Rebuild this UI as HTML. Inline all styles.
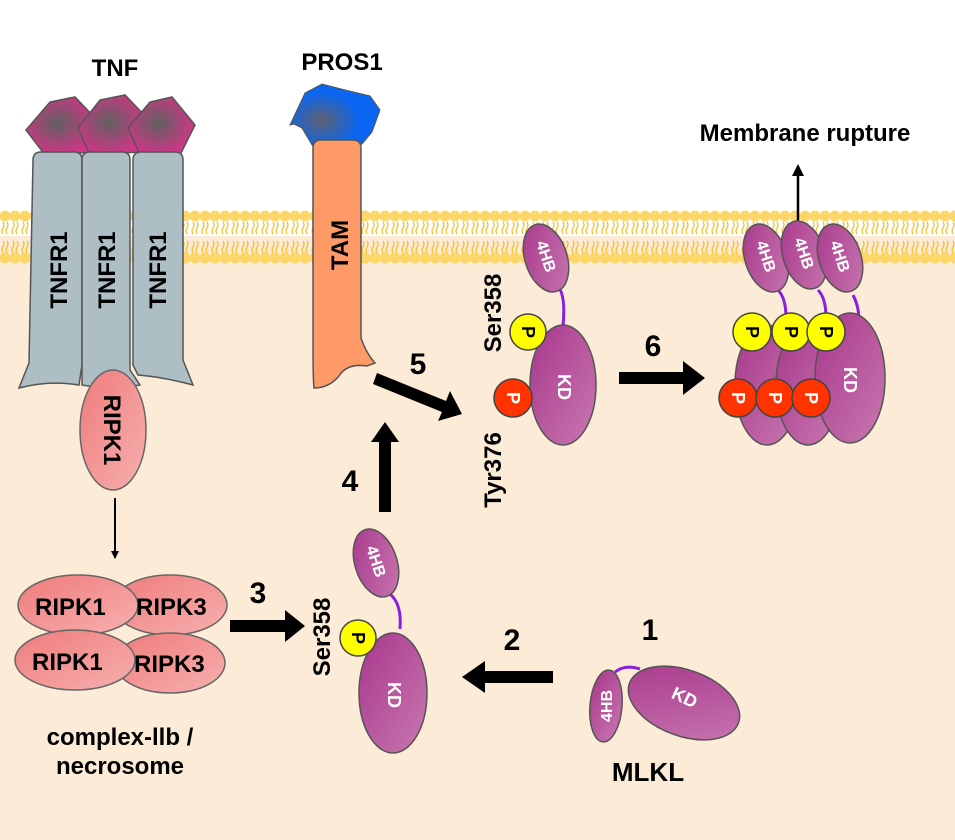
<!DOCTYPE html>
<html><head><meta charset="utf-8"><style>
html,body{margin:0;padding:0;background:#fff}
svg{display:block}
text{font-family:"Liberation Sans",Arial,sans-serif;font-weight:bold}
</style></head><body>
<svg width="955" height="840" viewBox="0 0 955 840" xmlns="http://www.w3.org/2000/svg">
<defs>
<pattern id="mem" x="0" y="210" width="10" height="56" patternUnits="userSpaceOnUse">
<circle cx="5" cy="6" r="5.5" fill="#fdd66a"/>
<circle cx="5" cy="48" r="5.5" fill="#fdd66a"/>
<path d="M3 12 q2 3 0 6 q-2 3 0 6 M7 12 q2 3 0 6 q-2 3 0 6 M3 31 q2 3 0 6 q-2 3 0 6 M7 31 q2 3 0 6 q-2 3 0 6" stroke="#f5bf2a" stroke-width="1.3" fill="none"/>
</pattern>
<radialGradient id="tnf" cx="0.45" cy="0.45" r="0.6"><stop offset="0" stop-color="#606060"/><stop offset="1" stop-color="#d8338a"/></radialGradient>
<radialGradient id="pros" cx="0.35" cy="0.55" r="0.6"><stop offset="0" stop-color="#606070"/><stop offset="0.7" stop-color="#0a66f0"/></radialGradient>
<linearGradient id="pur" x1="0" y1="0" x2="1" y2="1"><stop offset="0" stop-color="#a8378c"/><stop offset="1" stop-color="#c878b0"/></linearGradient>
<linearGradient id="rip" x1="0" y1="0" x2="1" y2="1"><stop offset="0" stop-color="#ef7b7b"/><stop offset="1" stop-color="#f7b0b0"/></linearGradient>
<marker id="ah" markerWidth="8" markerHeight="8" refX="7" refY="4" orient="auto" markerUnits="userSpaceOnUse"><path d="M0 0 L8 4 L0 8Z" fill="#000"/></marker>
<marker id="ah2" markerWidth="12" markerHeight="12" refX="10" refY="6" orient="auto" markerUnits="userSpaceOnUse"><path d="M0 0 L12 6 L0 12Z" fill="#000"/></marker>
</defs>
<rect x="0" y="0" width="955" height="840" fill="#fff"/>
<rect x="0" y="236" width="955" height="604" fill="#fcebd7"/>
<rect x="0" y="210" width="955" height="56" fill="url(#mem)"/>

<!-- TNF -->
<text x="115" y="76" font-size="24" text-anchor="middle">TNF</text>
<g stroke="#555" stroke-width="1.5" fill="url(#tnf)">
<path d="M26 130 L50 102 L75 97 L97 120 L95 152 L45 155Z"/>
<path d="M78 128 L100 100 L125 95 L147 118 L140 152 L90 155Z"/>
<path d="M128 128 L150 102 L172 97 L195 125 L180 155 L140 155Z"/>
</g>
<g stroke="#555" stroke-width="1.5" fill="#adbfc5">
<path d="M33 160 q0-8 8-8 h33 q8 0 8 8 v205 l-3 20 q-30 -5 -60 3 l10 -25Z"/>
<path d="M82 160 q0-8 8-8 h32 q8 0 8 8 v210 l10 15 q-30 5 -58 0 l0 -15Z"/>
<path d="M133 160 q0-8 8-8 h34 q8 0 8 8 v200 l10 25 q-30 -8 -55 -10 l-5 -10Z"/>
</g>
<g font-size="24" text-anchor="middle">
<text transform="translate(67,270) rotate(-90)">TNFR1</text>
<text transform="translate(115,270) rotate(-90)">TNFR1</text>
<text transform="translate(166,270) rotate(-90)">TNFR1</text>
</g>
<ellipse cx="113" cy="430" rx="33" ry="60" fill="url(#rip)" stroke="#666" stroke-width="1.5"/>
<text transform="translate(104,430) rotate(90)" font-size="24" text-anchor="middle">RIPK1</text>
<line x1="115" y1="498" x2="115" y2="558" stroke="#000" stroke-width="2" marker-end="url(#ah)"/>

<g stroke="#666" stroke-width="1.5" fill="url(#rip)">
<ellipse cx="170" cy="605" rx="57" ry="30"/>
<ellipse cx="170" cy="663" rx="55" ry="30"/>
<ellipse cx="78" cy="605" rx="60" ry="30"/>
<ellipse cx="75" cy="660" rx="60" ry="30"/>
</g>
<g font-size="24">
<text x="136" y="615">RIPK3</text>
<text x="134" y="672">RIPK3</text>
<text x="35" y="615">RIPK1</text>
<text x="32" y="670">RIPK1</text>
</g>
<text x="120" y="745" font-size="24" text-anchor="middle">complex-llb /</text>
<text x="120" y="774" font-size="24" text-anchor="middle">necrosome</text>

<!-- PROS1 / TAM -->
<text x="342" y="70" font-size="24" text-anchor="middle">PROS1</text>
<path d="M290 125 L305 93 L322 84 L345 90 L370 96 L380 110 L372 132 L362 144 L315 150 L302 128 L294 124Z" fill="url(#pros)" stroke="#555" stroke-width="1"/>
<path d="M313 148 q0-8 8-8 h32 q8 0 8 8 v190 q5 15 14 25 l-8 3 q-20 -3 -28 10 q-10 12 -25 12 q-1 -10 -1 -40Z" fill="#fd9a68" stroke="#555" stroke-width="1.5"/>
<text transform="translate(348,245) rotate(-90)" font-size="24" text-anchor="middle">TAM</text>

<!-- arrows -->
<g fill="#000">
<path d="M230 620 H285 V610 L305 626 L285 642 V632 H230Z"/>
<text x="258" y="603" font-size="30" text-anchor="middle">3</text>
<path d="M379 512 V442 H371 L385 422 L399 442 H391 V512Z"/>
<text x="350" y="491" font-size="30" text-anchor="middle">4</text>
<path d="M377 373 L446 401 L450 391 L462 414 L438 421 L442 412 L373 384Z"/>
<text x="418" y="374" font-size="30" text-anchor="middle">5</text>
<path d="M619 372 H683 V361 L705 378 L683 395 V384 H619Z"/>
<text x="653" y="356" font-size="30" text-anchor="middle">6</text>
<path d="M553 671 H485 V661 L462 677 L485 693 V683 H553Z"/>
<text x="512" y="650" font-size="30" text-anchor="middle">2</text>
<text x="650" y="640" font-size="30" text-anchor="middle">1</text>
</g>

<!-- MLKL after 3 -->
<path d="M390 594 q12 10 10 35" stroke="#8a1ee0" stroke-width="3" fill="none"/>
<ellipse cx="376" cy="563" rx="21" ry="35" transform="rotate(-18 376 563)" fill="url(#pur)" stroke="#555" stroke-width="1.5"/>
<text transform="translate(371,563) rotate(72)" font-size="16" fill="#fff" text-anchor="middle" font-weight="normal">4HB</text>
<ellipse cx="393" cy="693" rx="34" ry="60" fill="url(#pur)" stroke="#555" stroke-width="1.5"/>
<text transform="translate(388,695) rotate(90)" font-size="18" fill="#fff" text-anchor="middle" font-weight="normal">KD</text>
<circle cx="358" cy="638" r="18" fill="#ffff00" stroke="#444" stroke-width="1.5"/>
<text transform="translate(352,638) rotate(90)" font-size="18" text-anchor="middle">P</text>
<text transform="translate(330,637) rotate(-90)" font-size="24" text-anchor="middle">Ser358</text>

<!-- MLKL at membrane -->
<path d="M558 286 q8 10 5 40" stroke="#8a1ee0" stroke-width="3" fill="none"/>
<ellipse cx="546" cy="258" rx="21" ry="35" transform="rotate(-18 546 258)" fill="url(#pur)" stroke="#555" stroke-width="1.5"/>
<text transform="translate(541,258) rotate(72)" font-size="16" fill="#fff" text-anchor="middle" font-weight="normal">4HB</text>
<ellipse cx="563" cy="385" rx="33" ry="60" fill="url(#pur)" stroke="#555" stroke-width="1.5"/>
<text transform="translate(558,387) rotate(90)" font-size="18" fill="#fff" text-anchor="middle" font-weight="normal">KD</text>
<circle cx="528" cy="332" r="18" fill="#ffff00" stroke="#444" stroke-width="1.5"/>
<text transform="translate(522,332) rotate(90)" font-size="18" text-anchor="middle">P</text>
<circle cx="513" cy="398" r="19" fill="#ff3300" stroke="#444" stroke-width="1.5"/>
<text transform="translate(507,398) rotate(90)" font-size="18" fill="#fff" text-anchor="middle">P</text>
<text transform="translate(501,313) rotate(-90)" font-size="24" text-anchor="middle">Ser358</text>
<text transform="translate(501,470) rotate(-90)" font-size="24" text-anchor="middle">Tyr376</text>

<!-- oligomer -->
<text x="805" y="141" font-size="24" text-anchor="middle">Membrane rupture</text>
<line x1="798" y1="228" x2="798" y2="166" stroke="#000" stroke-width="2.5" marker-end="url(#ah2)"/>
<g stroke="#8a1ee0" stroke-width="3" fill="none">
<path d="M778 290 q8 8 8 28"/><path d="M818 290 q8 8 8 28"/><path d="M853 295 q8 15 5 35"/>
</g>
<g fill="url(#pur)" stroke="#555" stroke-width="1.5">
<ellipse cx="767" cy="385" rx="32" ry="60"/>
<ellipse cx="808" cy="385" rx="32" ry="60"/>
<ellipse cx="850" cy="378" rx="35" ry="65"/>
</g>
<text transform="translate(844,380) rotate(90)" font-size="18" fill="#fff" text-anchor="middle" font-weight="normal">KD</text>
<g fill="url(#pur)" stroke="#555" stroke-width="1.5">
<ellipse cx="766" cy="258" rx="21" ry="35" transform="rotate(-18 766 258)"/>
<ellipse cx="804" cy="255" rx="21" ry="35" transform="rotate(-18 804 255)"/>
<ellipse cx="840" cy="258" rx="21" ry="35" transform="rotate(-18 840 258)"/>
</g>
<g font-size="16" fill="#fff" text-anchor="middle" font-weight="normal">
<text transform="translate(761,258) rotate(72)">4HB</text>
<text transform="translate(799,255) rotate(72)">4HB</text>
<text transform="translate(835,258) rotate(72)">4HB</text>
</g>
<g fill="#ffff00" stroke="#444" stroke-width="1.5">
<circle cx="752" cy="332" r="19"/><circle cx="791" cy="332" r="19"/><circle cx="826" cy="332" r="19"/>
</g>
<g font-size="18" text-anchor="middle">
<text transform="translate(746,332) rotate(90)">P</text>
<text transform="translate(785,332) rotate(90)">P</text>
<text transform="translate(820,332) rotate(90)">P</text>
</g>
<g fill="#ff3300" stroke="#444" stroke-width="1.5">
<circle cx="738" cy="398" r="19"/><circle cx="775" cy="398" r="19"/><circle cx="811" cy="398" r="19"/>
</g>
<g font-size="18" fill="#fff" text-anchor="middle">
<text transform="translate(732,398) rotate(90)">P</text>
<text transform="translate(769,398) rotate(90)">P</text>
<text transform="translate(805,398) rotate(90)">P</text>
</g>

<!-- MLKL monomer -->
<path d="M615 672 q10 -8 25 -3" stroke="#8a1ee0" stroke-width="3" fill="none"/>
<ellipse cx="684" cy="703" rx="58" ry="33" transform="rotate(20 684 703)" fill="url(#pur)" stroke="#555" stroke-width="1.5"/>
<text transform="translate(682,703) rotate(25)" font-size="18" fill="#fff" text-anchor="middle" font-weight="normal">KD</text>
<ellipse cx="606" cy="706" rx="16" ry="36" transform="rotate(5 606 706)" fill="url(#pur)" stroke="#555" stroke-width="1.5"/>
<text transform="translate(612,706) rotate(-90)" font-size="16" fill="#fff" text-anchor="middle" font-weight="normal">4HB</text>
<text x="648" y="781" font-size="26" text-anchor="middle">MLKL</text>
</svg>
</body></html>
